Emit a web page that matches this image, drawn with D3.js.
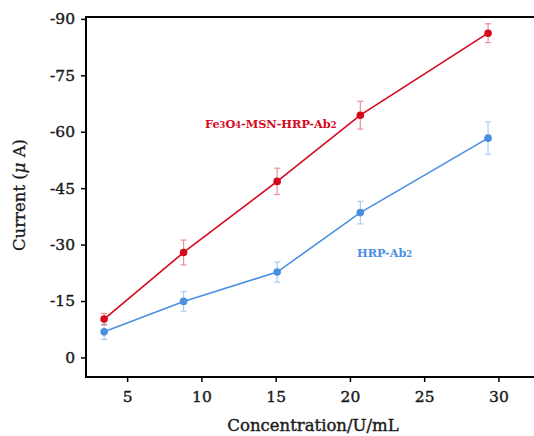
<!DOCTYPE html>
<html>
<head>
<meta charset="utf-8">
<script src="https://cdn.jsdelivr.net/npm/d3@7"></script>
<style>
  body { margin: 0; background: #fff; }
</style>
</head>
<body>
<svg id="chart" width="534" height="436"></svg>
<script>
var concentration = [3.45, 8.8, 15.1, 20.7, 29.3];
var fe3o4Current = [-10.2, -27.9, -46.8, -64.4, -86.2];
var fe3o4Error = [1.5, 3.3, 3.5, 3.7, 2.5];
var hrpCurrent = [-6.8, -14.9, -22.7, -38.5, -58.3];
var hrpError = [2.0, 2.6, 2.7, 3.0, 4.3];
var xTicks = [5, 10, 15, 20, 25, 30];
var yTicks = [0, -15, -30, -45, -60, -75, -90];

var FONT = "'DejaVu Serif', 'Liberation Serif', serif";
var svg = d3.select("#chart");
var red = "#d7081e", blue = "#4a90e2";

var x = d3.scaleLinear().domain([2.23, 33.0]).range([86, 543]);
var y = d3.scaleLinear().domain([5.2, -90.5]).range([377, 17]);

// top frame line
svg.append("line")
  .attr("x1", 86).attr("x2", 534).attr("y1", 17).attr("y2", 17)
  .attr("stroke", "#000").attr("stroke-width", 2);

var xAxis = svg.append("g")
  .attr("transform", "translate(0,377)")
  .call(d3.axisBottom(x).tickValues(xTicks).tickSizeOuter(0).tickSize(5).tickPadding(9));
var yAxis = svg.append("g")
  .attr("transform", "translate(86,0)")
  .call(d3.axisLeft(y).tickValues(yTicks).tickSizeOuter(0).tickSize(5).tickPadding(6)
    .tickFormat(function(d) { return d === 0 ? "0" : "-" + Math.abs(d); }));

[xAxis, yAxis].forEach(function(a) {
  a.attr("font-family", FONT);
  a.select(".domain").attr("stroke-width", 2);
  a.selectAll(".tick line").attr("stroke-width", 1.5);
  a.selectAll("text")
    .attr("font-size", 15.5)
    .attr("fill", "#1a1a1a")
    .attr("stroke", "#1a1a1a").attr("stroke-width", 0.4);
});
xAxis.select(".domain").attr("d", "M86,0H534");
yAxis.select(".domain").attr("d", "M0,16V378");

svg.append("text")
  .attr("x", 313).attr("y", 431)
  .attr("text-anchor", "middle")
  .attr("font-family", FONT)
  .attr("font-size", 16.5).attr("fill", "#1a1a1a")
  .attr("stroke", "#1a1a1a").attr("stroke-width", 0.4)
  .text("Concentration/U/mL");

var yl = svg.append("text")
  .attr("transform", "translate(25,195) rotate(-90)")
  .attr("text-anchor", "middle")
  .attr("font-family", FONT)
  .attr("font-size", 16.5).attr("fill", "#1a1a1a")
  .attr("stroke", "#1a1a1a").attr("stroke-width", 0.3);
yl.append("tspan").text("Current (");
yl.append("tspan").attr("font-style", "italic").text("\u03bc ");
yl.append("tspan").text("A)");

function drawSeries(vals, errs, color) {
  var pts = concentration.map(function(c, i) { return {x: c, y: vals[i], e: errs[i]}; });
  var g = svg.append("g");
  var eb = g.selectAll(".err").data(pts).enter().append("g").attr("opacity", 0.45);
  eb.append("line")
    .attr("x1", function(d) { return x(d.x); }).attr("x2", function(d) { return x(d.x); })
    .attr("y1", function(d) { return y(d.y - d.e); }).attr("y2", function(d) { return y(d.y + d.e); })
    .attr("stroke", color).attr("stroke-width", 1.2);
  [-1, 1].forEach(function(s) {
    eb.append("line")
      .attr("x1", function(d) { return x(d.x) - 3; }).attr("x2", function(d) { return x(d.x) + 3; })
      .attr("y1", function(d) { return y(d.y + s * d.e); }).attr("y2", function(d) { return y(d.y + s * d.e); })
      .attr("stroke", color).attr("stroke-width", 1.2);
  });
  g.append("path").datum(pts)
    .attr("fill", "none").attr("stroke", color).attr("stroke-width", 1.6)
    .attr("d", d3.line().x(function(d) { return x(d.x); }).y(function(d) { return y(d.y); }));
  g.selectAll("circle").data(pts).enter().append("circle")
    .attr("cx", function(d) { return x(d.x); }).attr("cy", function(d) { return y(d.y); })
    .attr("r", 3.8).attr("fill", color);
}
drawSeries(hrpCurrent, hrpError, blue);
drawSeries(fe3o4Current, fe3o4Error, red);

function subLabel(xp, yp, parts, color) {
  var t = svg.append("text").attr("x", xp).attr("y", yp)
    .attr("font-family", FONT).attr("font-weight", "bold")
    .attr("font-size", 11.3).attr("fill", color);
  parts.forEach(function(p) {
    t.append("tspan").attr("font-size", p[1] ? 8.3 : 11.3).text(p[0]);
  });
}
subLabel(205, 128, [["Fe", 0], ["3", 1], ["O", 0], ["4", 1], ["-MSN-HRP-Ab", 0], ["2", 1]], red);
subLabel(357, 257, [["HRP-Ab", 0], ["2", 1]], blue);
</script>
</body>
</html>
